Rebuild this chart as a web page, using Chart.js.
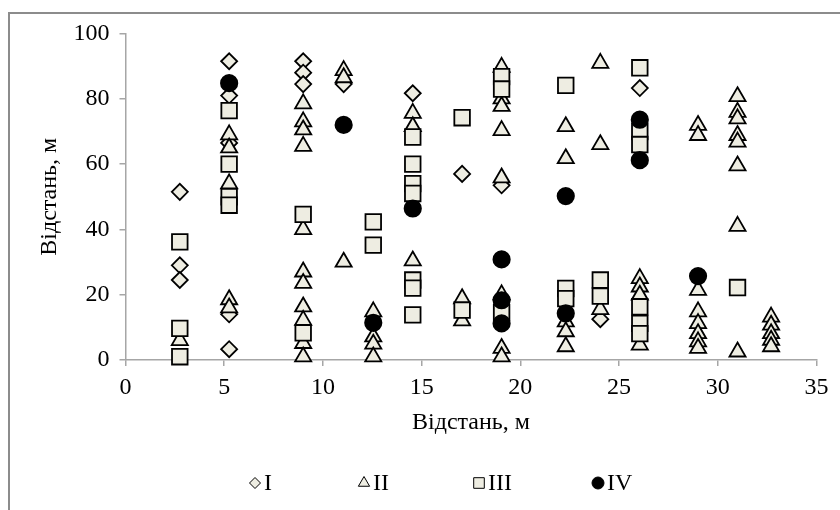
<!DOCTYPE html>
<html>
<head>
<meta charset="utf-8">
<script src="https://cdn.jsdelivr.net/npm/chart.js@4.4.1/dist/chart.umd.min.js"></script>
<style>
  html,body{margin:0;padding:0;background:#fff;}
  #wrap{position:relative;width:840px;height:510px;overflow:hidden;}
  #frame{position:absolute;left:8px;top:12px;width:900px;height:600px;border-left:2px solid #8c8c8c;border-top:2px solid #8c8c8c;}
  #cv{position:absolute;left:0;top:0;}
  #legend{position:absolute;left:247px;top:469px;display:flex;font-family:'Liberation Serif',serif;font-size:24px;color:#000;}
  #legend .it{display:flex;align-items:center;gap:1px;}
</style>
</head>
<body>
<div id="wrap">
  <div id="frame"></div>
  <canvas id="cv" width="840" height="510"></canvas>
  <div id="legend"></div>
</div>
<script>
// ===================== ДАНІ =====================
const seriesNames=['I','II','III','IV'];
const xTicks=[0,5,10,15,20,25,30,35];
const yTicks=[0,20,40,60,80,100];

// I — ромби
const xI=[2.75,2.75,2.75,5.25,5.25,5.25,5.25,5.25,9,9,9,11.05,14.55,17.05,19.05,24.05,26.05];
const yI=[51.5,29,24.5,91.5,81,66.5,14,3.3,91.5,88,84.5,84.5,81.7,57,53.5,12.5,83.3];

// II — трикутники
const xII=[2.75,
  5.25,5.25,5.25,5.25,5.25,
  9,9,9,9,9,9,9,9,9,9,9,
  11.05,11.05,11.05,
  12.55,12.55,12.55,12.55,
  14.55,14.55,14.55,
  17.05,17.05,
  19.05,19.05,19.05,19.05,19.05,19.05,19.05,19.05,
  22.3,22.3,22.3,22.3,22.3,
  24.05,24.05,24.05,
  26.05,26.05,26.05,26.05,
  29,29,29,29,29,29,29,29,
  31,31,31,31,31,31,31,31,
  32.7,32.7,32.7,32.7,32.7];
const yII=[6,
  69,65,54,18.5,16,
  78.5,73,70.5,65.5,40,27,23.5,16.3,12.2,5.1,1,
  88.7,86.5,30,
  14.8,7.1,4.9,1,
  75.6,71.5,30.4,
  18.8,12,
  89.7,80,77.7,70.3,55.8,20,3.6,1,
  71.5,61.7,11.7,8.7,4.1,
  90.9,66,15.5,
  25,22.4,19.9,4.6,
  71.9,68.8,21.4,14.8,11.2,8.1,5.6,3.6,
  80.7,75.9,73.9,68.8,66.8,59.5,41,2.5,
  13.2,10.7,8.1,6.1,4.1];

// III — квадрати
const xIII=[2.75,2.75,2.75,5.25,5.25,5.25,5.25,9,9,12.55,12.55,
  14.55,14.55,14.55,14.55,14.55,14.55,14.55,17.05,17.05,19.05,19.05,19.05,
  22.3,22.3,22.3,24.05,24.05,26.05,26.05,26.05,26.05,26.05,26.05,31];
const yIII=[36.2,9.7,1,76.4,60,50,47.4,44.6,8.3,42.3,35.2,
  68.3,60,54,51,24.5,22,13.8,74.2,15.3,86.8,83,14.5,
  84.1,21.9,18.8,24.5,19.6,89.5,70,66,16.3,11.2,8.1,22.2];

// IV — кола
const xIV=[5.25,11.05,12.55,14.55,19.05,19.05,19.05,22.3,22.3,26.05,26.05,29];
const yIV=[84.8,72,11.4,46.4,30.8,18.3,11.2,50.2,14.3,73.6,61.2,25.7];

// ===================== ГРАФІК =====================
const FONT="'Liberation Serif', 'Times New Roman', serif";
const FS=24;
const FILL='#eeede2';
const pts=(xs,ys)=>xs.map((x,i)=>({x,y:ys[i]}));
const mk=(label,xs,ys,style,r,bg,order)=>({
  label,data:pts(xs,ys),pointStyle:style,pointRadius:r,pointHoverRadius:r,
  backgroundColor:bg,borderColor:'#000',borderWidth:1.8,showLine:false,clip:false,order
});

const chart=new Chart(document.getElementById('cv'),{
  type:'scatter',
  data:{datasets:[
    mk(seriesNames[0],xI,yI,'rectRot',8,FILL,4),
    mk(seriesNames[1],xII,yII,'triangle',9.3,FILL,3),
    mk(seriesNames[2],xIII,yIII,'rect',11,FILL,2),
    mk(seriesNames[3],xIV,yIV,'circle',8.2,'#000',1)
  ]},
  options:{
    responsive:false,animation:false,
    layout:{padding:{left:30,right:23.5,top:33.5,bottom:70}},
    plugins:{legend:{display:false},tooltip:{enabled:false}},
    scales:{
      x:{type:'linear',min:0,max:35,
        afterBuildTicks:s=>{s.ticks=xTicks.map(v=>({value:v}));},
        afterFit:s=>{s.height=80;},
        ticks:{color:'#000',font:{family:FONT,size:FS},padding:7},
        grid:{display:true,drawOnChartArea:false,drawTicks:true,tickLength:6,color:'#a6a6a6',lineWidth:1.5},
        border:{color:'#a6a6a6',width:1.5},
        title:{display:true,text:'Відстань, м',color:'#000',font:{family:FONT,size:FS},padding:{top:0,bottom:2.5}}
      },
      y:{type:'linear',min:0,max:100,
        afterBuildTicks:s=>{s.ticks=yTicks.map(v=>({value:v}));},
        afterFit:s=>{s.width=95.5;},
        ticks:{color:'#000',font:{family:FONT,size:FS},padding:10},
        grid:{display:true,drawOnChartArea:false,drawTicks:true,tickLength:6,color:'#a6a6a6',lineWidth:1.5},
        border:{color:'#a6a6a6',width:1.5},
        title:{display:true,text:'Відстань, м',color:'#000',font:{family:FONT,size:FS},padding:{top:5.5,bottom:0}}
      }
    }
  }
});

// ===== легенда (HTML, маркери малює сам Chart.js) =====
const legendSizes=[5.5,6.5,7.5,6];
const legendLeft=[0,109,224,343];   // відступи елементів від лівого краю легенди
const leg=document.getElementById('legend');
chart.data.datasets.forEach((ds,i)=>{
  const it=document.createElement('div');it.className='it';
  it.style.position='absolute';it.style.left=legendLeft[i]+'px';
  const c=document.createElement('canvas');c.width=16;c.height=16;
  const ctx=c.getContext('2d');
  ctx.fillStyle=ds.backgroundColor;ctx.strokeStyle='#000';ctx.lineWidth=1;
  Chart.helpers.drawPoint(ctx,{pointStyle:ds.pointStyle,radius:legendSizes[i],borderWidth:1},8,8);
  const t=document.createElement('span');t.textContent=ds.label;
  it.appendChild(c);it.appendChild(t);leg.appendChild(it);
});
</script>
</body>
</html>
